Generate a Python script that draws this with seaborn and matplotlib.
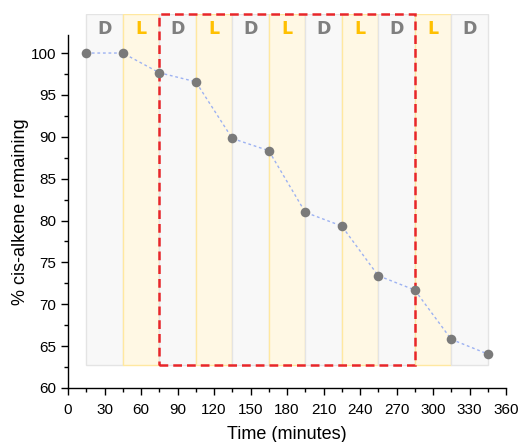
import matplotlib
matplotlib.use("Agg")
import matplotlib.pyplot as plt
from matplotlib.patches import Rectangle
from matplotlib.ticker import FixedLocator
import seaborn as sns
import pandas as pd

# ---- data ----
time_min = [15, 45, 75, 105, 135, 165, 195, 225, 255, 285, 315, 345]
pct_remaining = [100.0, 100.0, 97.65, 96.57, 89.8, 88.34, 80.98, 79.34, 73.41, 71.70, 65.81, 64.06]
band_labels = ["D", "L", "D", "L", "D", "L", "D", "L", "D", "L", "D"]
band_starts = [15, 45, 75, 105, 135, 165, 195, 225, 255, 285, 315]
band_width = 30
highlight_range = [75, 285]
x_ticks = list(range(0, 361, 30))
y_ticks = list(range(60, 101, 5))

df = pd.DataFrame({"t": time_min, "v": pct_remaining})

sns.set_theme(style="white")
plt.rcParams["font.family"] = ["Liberation Sans", "DejaVu Sans"]

fig = plt.figure(figsize=(5.2, 4.42), dpi=100)
ax = fig.add_axes([0.1308, 0.1222, 0.8423, 0.8461])

y_lo, y_band_bot, y_top, y_text = 60, 62.75, 104.66, 102.9

styles = {
    "D": dict(face="#f8f8f8", edge="#e4e4e4", txt="#7f7f7f"),
    "L": dict(face="#fff8e4", edge="#ffe8a0", txt="#ffc000"),
}
for lab, x0 in zip(band_labels, band_starts):
    st = styles[lab]
    ax.add_patch(Rectangle((x0, y_band_bot), band_width, y_top - y_band_bot,
                           facecolor=st["face"], edgecolor=st["edge"], lw=1.0, zorder=0))
    ax.text(x0 + band_width / 2, y_text, lab, ha="center", va="center",
            fontsize=12.5, fontweight="bold", color=st["txt"],
            family=["DejaVu Sans"], zorder=3)

# red dashed highlight box
ax.add_patch(Rectangle((highlight_range[0], y_band_bot), highlight_range[1] - highlight_range[0],
                       y_top - y_band_bot, facecolor="none", edgecolor="#e8262a",
                       lw=1.8, linestyle=(0, (3.5, 2)), zorder=4, clip_on=False))

sns.lineplot(data=df, x="t", y="v", ax=ax, color="#9db2f2", lw=1.0,
             linestyle=(0, (2, 2)), zorder=5)
sns.scatterplot(data=df, x="t", y="v", ax=ax, color="#7a7a7a", s=48,
                edgecolor="#7a7a7a", linewidth=0, zorder=6)

ax.set_xlim(0, 360)
ax.set_ylim(y_lo, y_top)
ax.xaxis.set_major_locator(FixedLocator(x_ticks))
ax.xaxis.set_minor_locator(FixedLocator(list(range(15, 360, 30))))
ax.yaxis.set_major_locator(FixedLocator(y_ticks))
ax.yaxis.set_minor_locator(FixedLocator([62.5 + 5 * i for i in range(8)]))
ax.tick_params(axis="both", which="major", direction="out", length=5, width=1,
               color="black", labelsize=11, labelcolor="black", bottom=True, left=True)
ax.tick_params(axis="both", which="minor", direction="out", length=3, width=1,
               color="black", bottom=True, left=True)
ax.tick_params(axis="x", which="major", pad=5.5)

for s in ["top", "right"]:
    ax.spines[s].set_visible(False)
for s in ["left", "bottom"]:
    ax.spines[s].set_color("black")
    ax.spines[s].set_linewidth(1)
ax.spines["left"].set_bounds(60, 102.15)

ax.set_xlabel("Time (minutes)", fontsize=13, color="black", labelpad=7)
ax.set_ylabel("% cis-alkene remaining", fontsize=13, color="black")
ax.yaxis.set_label_coords(-0.09, 0.472)

fig.savefig("out.png", dpi=100)
